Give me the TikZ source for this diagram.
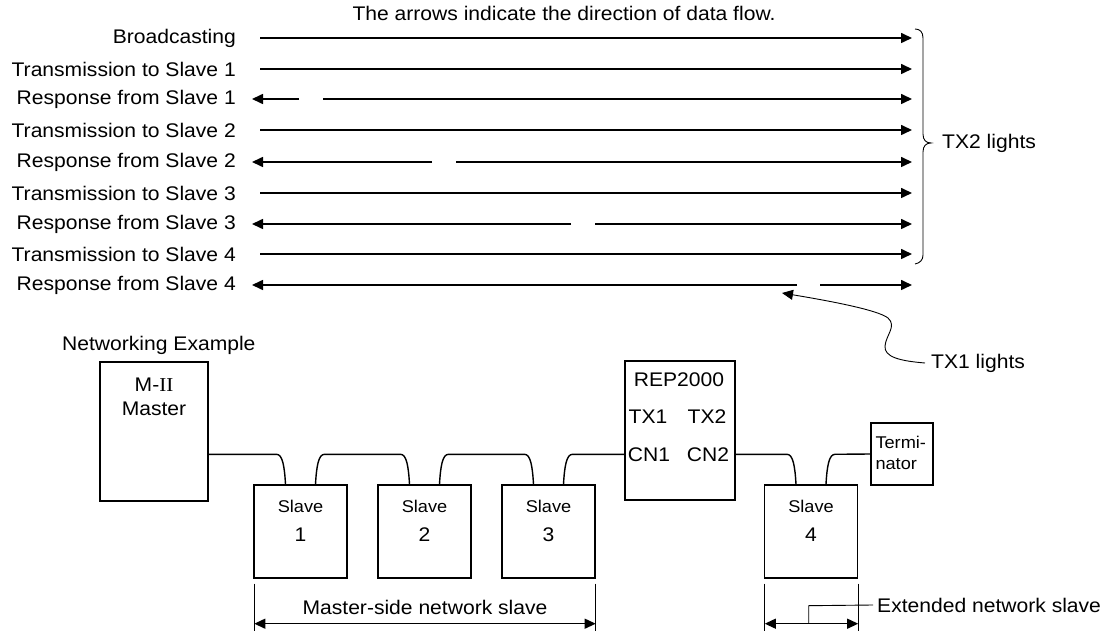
\documentclass[tikz,border=0pt]{standalone}
\usepackage{fontspec}
\setmainfont{Liberation Sans}[FakeStretch=1.07]
\newfontfamily\romfont{Liberation Serif}[FakeStretch=1.07]
\usetikzlibrary{arrows.meta,calc}
\begin{document}
\begin{tikzpicture}[x=1pt,y=-1pt,
  lbl/.style={inner sep=0pt, font=\fontsize{19.7}{21}\selectfont},
  small/.style={inner sep=0pt, font=\fontsize{17}{18}\selectfont},
  flow/.style={line width=1.6pt},
  arr/.style={-{Triangle[length=11pt,width=10pt]}},
  dim/.style={line width=1.2pt,{Triangle[length=11pt,width=10pt]}-{Triangle[length=11pt,width=10pt]}},
  thinline/.style={line width=0.9pt},
  box/.style={draw, line width=1.4pt, inner sep=0pt},
  cable/.style={line width=1.4pt},
]
\useasboundingbox (0,0) rectangle (1104,631);

% ---------- title ----------
\node[lbl] (title) at (564,13) {The arrows indicate the direction of data flow.};

% ---------- row labels ----------
\foreach \i/\y/\t in {1/38/Broadcasting,
                      2/69/Transmission to Slave 1,
                      3/99/Response from Slave 1,
                      4/130/Transmission to Slave 2,
                      5/162/Response from Slave 2,
                      6/193/Transmission to Slave 3,
                      7/224/Response from Slave 3,
                      8/254/Transmission to Slave 4,
                      9/285/Response from Slave 4}
  \node[lbl, anchor=east] (L\i) at (236,\y) {\t};

% transmissions (left to right)
\foreach \i in {1,2,4,6,8}
  \draw[flow, arr] ($(L\i.east)+(24,0)$) -- ($(L\i.east)+(676,0)$);

% responses (both directions with a gap)
\foreach \i/\a/\b in {3/299/323, 5/432/456, 7/571/595, 9/797/820} {
  \draw[flow, arr] ($(L\i.east)+(\a-236,0)$) -- ($(L\i.east)+(16,0)$);
  \draw[flow, arr] ($(L\i.east)+(\b-236,0)$) -- ($(L\i.east)+(676,0)$);
}

% ---------- brace and TX2 lights ----------
\node[lbl, anchor=west] (tx2) at (942,143) {TX2 lights};
\draw[thinline] (915,29) .. controls (920,29) and (923,32) .. (923,38)
  -- (923,134) .. controls (923,140) and (926,143) .. (931,143)
  .. controls (926,143) and (923,146) .. (923,152)
  -- (923,255) .. controls (923,260) and (920,263) .. (915,264);

% ---------- TX1 lights ----------
\node[lbl, anchor=west] (tx1) at (931,363) {TX1 lights};
\coordinate (tx1t) at (782,293);
\draw[thinline, arr] ($(tx1.west)+(-6,0)$) .. controls (900,361) and (884,357) .. (885,346)
  .. controls (886,335) and (897,326) .. (888,318)
  .. controls (878,310) and (830,301) .. (tx1t);

% ---------- network example ----------
\node[lbl, anchor=west] (netex) at (62,345) {Networking Example};

\node[box, minimum width=108pt, minimum height=139pt] (master) at (154,431.5) {};
\node[lbl] (mtxt1) at ($(master.north)+(0,23)$) {M-{\romfont II}};
\node[lbl] (mtxt2) at ($(master.north)+(0,48)$) {Master};

\node[box, minimum width=110pt, minimum height=139pt] (rep) at (680,430.5) {};
\node[lbl] (rtxt) at ($(rep.north)+(-1,19)$) {REP2000};
\node[lbl] (rtx1) at ($(rep.north)+(-32,56)$) {TX1};
\node[lbl] (rtx2) at ($(rep.north)+(27,56)$) {TX2};
\node[lbl] (rcn1) at ($(rep.north)+(-31,94)$) {CN1};
\node[lbl] (rcn2) at ($(rep.north)+(28,94)$) {CN2};

\node[box, minimum width=62pt, minimum height=62pt] (term) at (902,454) {};
\node[small, anchor=west] (tt1) at ($(term.north west)+(5,20)$) {Termi-};
\node[small, anchor=west] (tt2) at ($(term.north west)+(5,42)$) {nator};

\foreach \n/\x in {1/300.5, 2/424.5, 3/548.5, 4/811} {
  \node[box, minimum width=93pt, minimum height=93pt] (s\n) at (\x,531.5) {};
  \node[small] (st\n) at ($(s\n.north)+(0,22)$) {Slave};
  \node[lbl] (sn\n) at ($(s\n.north)+(0,50)$) {\n};
  \coordinate (s\n a) at ($(s\n.north)+(-15,0)$);
  \coordinate (s\n b) at ($(s\n.north)+(15,0)$);
}

% cables
\draw[cable] ($(master.north east)+(0,93)$) -- ($(s1a)+(-9,-30)$)
  .. controls ($(s1a)+(-3,-30)$) and ($(s1a)+(-1,-18)$) .. (s1a);
\foreach \p/\q in {1/2, 2/3} {
  \draw[cable] (s\p b) .. controls ($(s\p b)+(1,-18)$) and ($(s\p b)+(3,-30)$) .. ($(s\p b)+(9,-30)$)
    -- ($(s\q a)+(-9,-30)$) .. controls ($(s\q a)+(-3,-30)$) and ($(s\q a)+(-1,-18)$) .. (s\q a);
}
\draw[cable] (s3b) .. controls ($(s3b)+(1,-18)$) and ($(s3b)+(3,-30)$) .. ($(s3b)+(9,-30)$)
  -- ($(rep.north west)+(0,94)$);
\draw[cable] ($(rep.north east)+(0,94)$) -- ($(s4a)+(-9,-30)$)
  .. controls ($(s4a)+(-3,-30)$) and ($(s4a)+(-1,-18)$) .. (s4a);
\draw[cable] (s4b) .. controls ($(s4b)+(1,-18)$) and ($(s4b)+(3,-30)$) .. ($(s4b)+(9,-30)$)
  -- (term.west);

% ---------- dimensions ----------
\coordinate (d1) at ($(s1.south west)+(1,45)$);
\coordinate (d2) at ($(s3.south east)+(0,45)$);
\draw[thinline] ($(s1.south west)+(1,5)$) -- ($(s1.south west)+(1,53)$);
\draw[thinline] ($(s3.south east)+(0,5)$) -- ($(s3.south east)+(0,53)$);
\draw[dim] (d1) -- (d2);
\node[lbl] (mside) at ($(d1)!0.5!(d2)+(0,-16)$) {Master-side network slave};

\coordinate (d3) at ($(s4.south west)+(1,45)$);
\coordinate (d4) at ($(s4.south east)+(0,45)$);
\draw[thinline] ($(s4.south west)+(1,5)$) -- ($(s4.south west)+(1,53)$);
\draw[thinline] ($(s4.south east)+(0,5)$) -- ($(s4.south east)+(0,53)$);
\draw[dim] (d3) -- (d4);
\node[lbl, anchor=west] (ext) at (877,605) {Extended network slave};
\draw[thinline] ($(d3)!0.47!(d4)$) -- ++(0,-18) -- ($(ext.west)+(-4,0)$);

\end{tikzpicture}
\end{document}
